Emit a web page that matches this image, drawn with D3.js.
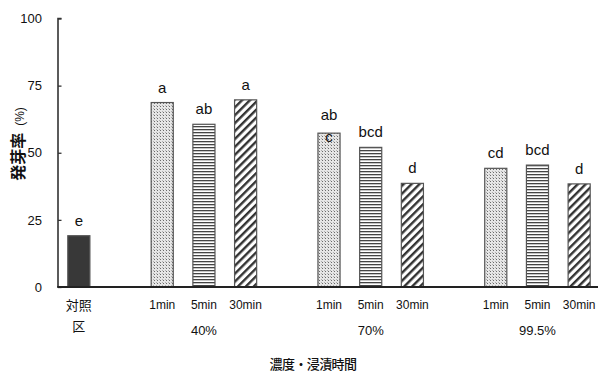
<!DOCTYPE html>
<html>
<head>
<meta charset="utf-8">
<script src="https://cdn.jsdelivr.net/npm/d3@7"></script>
<style>
  html, body { margin: 0; padding: 0; background: #fff; }
  svg { display: block; font-family: "Liberation Sans", Arial, "Noto Sans CJK JP", sans-serif; }
  .jp { font-family: "Noto Sans CJK JP", sans-serif; }
</style>
</head>
<body>
<svg id="chart" width="598" height="378"></svg>
<script>
// Germination rate by ethanol concentration and soaking time
const control = "対照区";
const concentrations = ["40%", "70%", "99.5%"];
const times = ["1min", "5min", "30min"];
// control first, then 40% / 70% / 99.5% × 1, 5, 30 min
const rates = [19.1, 68.7, 60.6, 69.7, 57.3, 52.0, 38.6, 44.2, 45.4, 38.4];
const letters = ["e", "a", "ab", "a", "ab\nc", "bcd", "d", "cd", "bcd", "d"];
const yTicks = [0, 25, 50, 75, 100];
const yLabel = "発芽率";
const yUnit = "(%)";
const xTitle = "濃度・浸漬時間";

const svg = d3.select("#chart");

// one bar record per treatment
const bars = [{ key: "ctrl", conc: null, time: null }];
concentrations.forEach(c => {
  times.forEach(t => bars.push({ key: c + "|" + t, conc: c, time: t }));
});
bars.forEach((b, i) => { b.value = rates[i]; b.letter = letters[i]; });

// slot keys: control, then an empty slot before each concentration group
const slots = ["ctrl"];
concentrations.forEach((c, ci) => {
  slots.push("gap" + ci);
  times.forEach(t => slots.push(c + "|" + t));
});

const x = d3.scaleBand()
  .domain(slots)
  .range([58, 600])
  .paddingInner(0.47)
  .paddingOuter(0.235);

const y = d3.scaleLinear().domain([0, 100]).range([287, 18.5]);

// fill patterns
const defs = svg.append("defs");
const dots = defs.append("pattern").attr("id", "pDots")
  .attr("patternUnits", "userSpaceOnUse").attr("width", 3).attr("height", 3);
dots.append("rect").attr("width", 3).attr("height", 3).attr("fill", "#e6e6e6");
dots.append("rect").attr("x", 1).attr("y", 1).attr("width", 1).attr("height", 1).attr("fill", "#6a6a6a");
dots.append("rect").attr("x", 0).attr("y", 0).attr("width", 1).attr("height", 1).attr("fill", "#b0b0b0");

const hlines = defs.append("pattern").attr("id", "pLines")
  .attr("patternUnits", "userSpaceOnUse").attr("width", 6).attr("height", 3);
hlines.append("rect").attr("width", 6).attr("height", 3).attr("fill", "#fff");
hlines.append("rect").attr("y", 0).attr("width", 6).attr("height", 1.3).attr("fill", "#444");

const diag = defs.append("pattern").attr("id", "pDiag")
  .attr("patternUnits", "userSpaceOnUse").attr("width", 5.6).attr("height", 6)
  .attr("patternTransform", "rotate(45)");
diag.append("rect").attr("width", 5.6).attr("height", 6).attr("fill", "#fff");
diag.append("rect").attr("x", 0).attr("width", 2.4).attr("height", 6).attr("fill", "#333");

const fills = { "1min": "url(#pDots)", "5min": "url(#pLines)", "30min": "url(#pDiag)" };

// bars
svg.append("g").selectAll("rect").data(bars).join("rect")
  .attr("x", d => x(d.key))
  .attr("y", d => y(d.value))
  .attr("width", x.bandwidth())
  .attr("height", d => y(0) - y(d.value))
  .attr("fill", d => d.time ? fills[d.time] : "#383838")
  .attr("stroke", "#555")
  .attr("stroke-width", 1.2);

// significance letters
const lab = svg.append("g").attr("font-size", 15).attr("fill", "#111").attr("text-anchor", "middle");
bars.forEach(d => {
  const lines = d.letter.split("\n");
  const cx = x(d.key) + x.bandwidth() / 2;
  const top = y(d.value);
  const t = lab.append("text");
  if (lines.length === 1) {
    t.append("tspan").attr("x", cx).attr("y", top - 10).text(lines[0]);
  } else {
    lines.forEach((s, i) => t.append("tspan").attr("x", cx).attr("y", top - 13 + i * 22).text(s));
  }
});

// axes
const yAxis = d3.axisLeft(y).tickValues(yTicks).tickSize(-3.5).tickPadding(16);
const gy = svg.append("g").attr("transform", "translate(58,0)").call(yAxis);
gy.select(".domain").attr("stroke", "#333").attr("stroke-width", 1.6).attr("d", `M3.5,${y(100)}H0V${y(0)}`);
gy.selectAll(".tick line").attr("stroke", "#333").attr("stroke-width", 1.3);
gy.selectAll(".tick text").attr("font-size", 13).attr("fill", "#111");

const gx = svg.append("g").attr("transform", `translate(0,${y(0)})`);
gx.append("line").attr("x1", 57.2).attr("x2", 598).attr("stroke", "#222").attr("stroke-width", 1.8);

// category labels
const ctrlX = x("ctrl") + x.bandwidth() / 2;
const ctrlLab = svg.append("text").attr("class", "jp").attr("text-anchor", "middle")
  .attr("font-size", 13).attr("fill", "#111");
ctrlLab.append("tspan").attr("x", ctrlX).attr("y", 310).text(control.slice(0, 2));
ctrlLab.append("tspan").attr("x", ctrlX).attr("y", 331).text(control.slice(2));

svg.append("g").selectAll("text").data(bars.filter(d => d.time)).join("text")
  .attr("x", d => x(d.key) + x.bandwidth() / 2)
  .attr("y", 309)
  .attr("text-anchor", "middle")
  .attr("font-size", 12)
  .attr("fill", "#111")
  .text(d => d.time);

svg.append("g").selectAll("text").data(concentrations).join("text")
  .attr("x", c => x(c + "|" + times[1]) + x.bandwidth() / 2)
  .attr("y", 335)
  .attr("text-anchor", "middle")
  .attr("font-size", 13)
  .attr("fill", "#111")
  .text(c => c);

// axis titles
svg.append("text").attr("class", "jp")
  .attr("x", 313).attr("y", 369)
  .attr("text-anchor", "middle")
  .attr("font-size", 13)
  .attr("letter-spacing", -0.6)
  .attr("font-weight", 500)
  .attr("fill", "#111")
  .text(xTitle);

const yt = svg.append("text")
  .attr("transform", "translate(24,144) rotate(-90)")
  .attr("text-anchor", "middle")
  .attr("fill", "#111");
yt.append("tspan").attr("class", "jp").attr("font-size", 16).attr("font-weight", 700).text(yLabel);
yt.append("tspan").attr("font-size", 12).attr("dx", 7).text(yUnit);
</script>
</body>
</html>
